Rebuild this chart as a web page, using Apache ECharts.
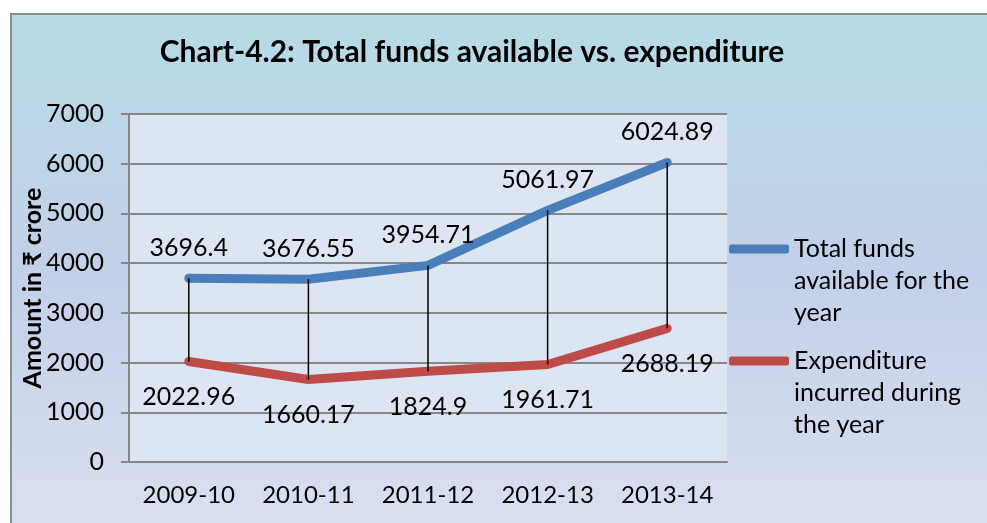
<!DOCTYPE html>
<html>
<head>
<meta charset="utf-8">
<script src="https://cdn.jsdelivr.net/npm/echarts@6/dist/echarts.min.js"></script>
<style>
  html, body { margin: 0; padding: 0; background: #ffffff; }
  #chart { width: 987px; height: 523px; }
</style>
</head>
<body>
<div id="chart"></div>
<script>
// chart data
var years = ['2009-10', '2010-11', '2011-12', '2012-13', '2013-14'];
var totalFunds = [3696.4, 3676.55, 3954.71, 5061.97, 6024.89];
var expenditure = [2022.96, 1660.17, 1824.9, 1961.71, 2688.19];
var yTicks = [0, 1000, 2000, 3000, 4000, 5000, 6000, 7000];

var nameFunds = 'Total funds\navailable for the\nyear';
var nameExp = 'Expenditure\nincurred during\nthe year';

// high-low lines between the two series
function dropLines(){
  var out = [];
  for(var i=0;i<years.length;i++){
    out.push([i, expenditure[i], totalFunds[i]]);
  }
  return out;
}

var font = 'Lato, "Noto Sans", "DejaVu Sans", sans-serif';

function legendBox(name, top){
  return {
    data: [name],
    orient: 'vertical',
    left: 729,
    top: top,
    padding: 0,
    itemWidth: 60,
    itemHeight: 9,
    itemGap: 0,
    icon: 'roundRect',
    // two blank lines first so the icon sits on the first text line
    formatter: function(n){ return '\n\n' + n; },
    textStyle: { fontFamily: font, fontSize: 25, color: '#000000', lineHeight: 32 }
  };
}

var myChart = echarts.init(document.getElementById('chart'));
var option = {
  animation: false,
  backgroundColor: '#ffffff',
  graphic: [
    {
      type: 'rect',
      z: -10,
      silent: true,
      shape: { x: 11, y: 14, width: 990, height: 520 },
      style: {
        fill: new echarts.graphic.LinearGradient(0, 0, 0, 1, [
          { offset: 0, color: '#b6dbe5' },
          { offset: 0.5, color: '#c3d0e9' },
          { offset: 1, color: '#d9e0f0' }
        ]),
        stroke: '#8c8c8c',
        lineWidth: 2
      }
    }
  ],
  title: {
    text: 'Chart-4.2: Total funds available vs. expenditure',
    left: 467,
    top: 32,
    textAlign: 'center',
    textStyle: { fontFamily: font, fontWeight: 'bold', fontSize: 30, color: '#000000' }
  },
  legend: [legendBox(nameFunds, 169), legendBox(nameExp, 281)],
  grid: {
    left: 129,
    right: 260,
    top: 114,
    bottom: 61,
    show: true,
    backgroundColor: '#dce6f2',
    borderWidth: 0
  },
  xAxis: {
    type: 'category',
    data: years,
    boundaryGap: true,
    axisLine: { lineStyle: { color: '#868686', width: 2 } },
    axisTick: { show: false },
    axisLabel: { fontFamily: font, fontSize: 24, color: '#000000', margin: 21, interval: 0 }
  },
  yAxis: {
    type: 'value',
    min: 0,
    max: 7000,
    interval: 1000,
    name: 'Amount in \u20b9 crore',
    nameLocation: 'middle',
    nameRotate: 90,
    nameGap: 84,
    nameMoveOverlap: false,
    nameTextStyle: { fontFamily: font, fontWeight: 'bold', fontSize: 25, color: '#000000' },
    axisLine: { show: true, lineStyle: { color: '#868686', width: 2 } },
    axisTick: { show: true, length: 8, lineStyle: { color: '#868686', width: 2 } },
    axisLabel: {
      fontFamily: font, fontSize: 25, color: '#000000', margin: 25,
      formatter: function(v){ return yTicks.indexOf(v) > -1 ? String(v) : ''; }
    },
    splitLine: { lineStyle: { color: '#878787', width: 2 } }
  },
  series: [
    {
      name: nameFunds,
      type: 'line',
      data: totalFunds,
      symbol: 'circle',
      symbolSize: 2,
      showSymbol: true,
      lineStyle: { color: '#4a7ebb', width: 9, cap: 'round' },
      itemStyle: { color: '#4a7ebb' },
      label: {
        show: true, position: 'top', distance: 17,
        fontFamily: font, fontSize: 25, color: '#000000',
        formatter: function(p){ return String(p.value); }
      },
      z: 3
    },
    {
      name: nameExp,
      type: 'line',
      data: expenditure,
      symbol: 'circle',
      symbolSize: 2,
      showSymbol: true,
      lineStyle: { color: '#be4b48', width: 9, cap: 'round' },
      itemStyle: { color: '#be4b48' },
      label: {
        show: true, position: 'bottom', distance: 22,
        fontFamily: font, fontSize: 25, color: '#000000',
        formatter: function(p){ return String(p.value); }
      },
      z: 3
    },
    {
      name: 'drop',
      type: 'custom',
      data: dropLines(),
      z: 4,
      renderItem: function(params, api){
        var lo = api.coord([api.value(0), api.value(1)]);
        var hi = api.coord([api.value(0), api.value(2)]);
        return {
          type: 'line',
          shape: { x1: lo[0], y1: lo[1], x2: hi[0], y2: hi[1] },
          style: { stroke: '#000000', lineWidth: 1.5 }
        };
      }
    }
  ]
};
myChart.setOption(option);
</script>
</body>
</html>
